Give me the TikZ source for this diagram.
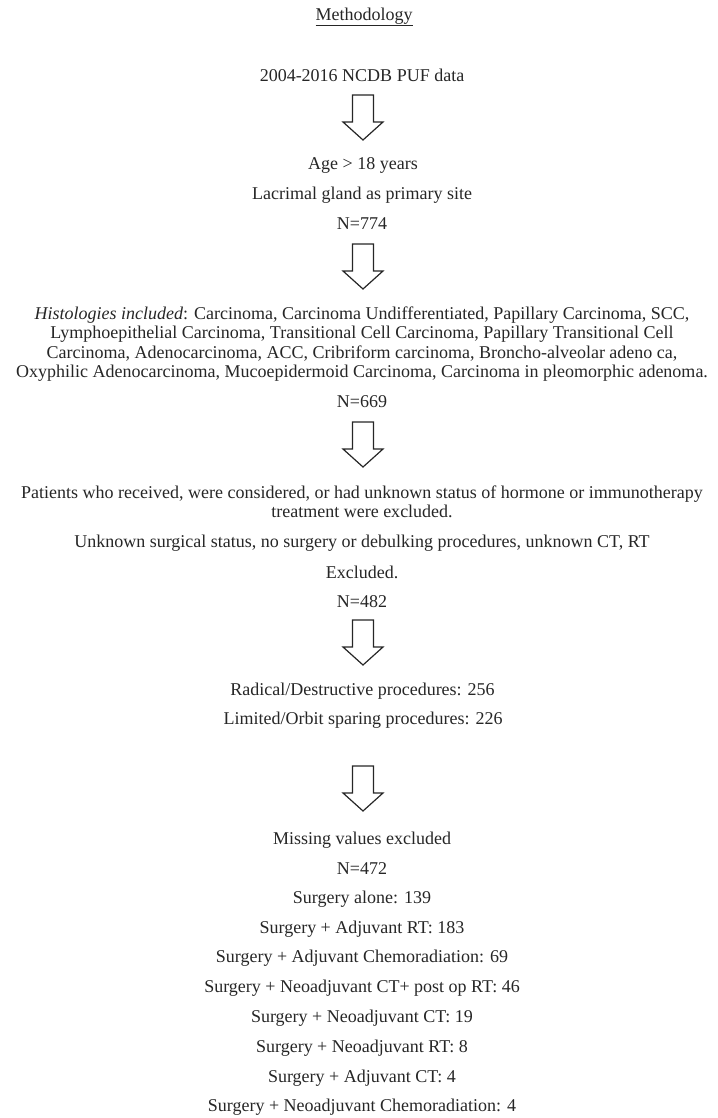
\documentclass[tikz,border=0pt]{standalone}
\usepackage{fontspec}
\setmainfont{Liberation Serif}
\usetikzlibrary{calc}
\definecolor{ink}{RGB}{38,38,38}

\begin{document}
\begin{tikzpicture}[x=1pt, y=-1pt, line join=miter,
    txt/.style={anchor=center, inner sep=0pt, text=ink, align=center,
                font=\fontsize{18}{19.3}\selectfont},
    blockarrow/.style={draw=ink, line width=1.2pt, fill=white}]

  %% ════ canvas ════
  \path[use as bounding box] (0,0) rectangle (717,1118);

  %% ════ title and source ════
  \node[txt] (meth) at (364,17) {\underline{Methodology}};
  \node[txt] (src)  at (362,75) {2004-2016 NCDB PUF data};

  %% ════ step 1: age / site ════
  \node[txt] (age)  at (363,165) {Age > 18 years};
  \node[txt] (site) at (362,195) {Lacrimal gland as primary site};
  \node[txt] (n774) at (362,224) {N=774};

  %% ════ step 2: histologies ════
  \node[txt] (hist) at (362,344) {%
    \textit{Histologies included}: Carcinoma, Carcinoma Undifferentiated, Papillary Carcinoma, SCC,\\
    Lymphoepithelial Carcinoma, Transitional Cell Carcinoma, Papillary Transitional Cell\\
    Carcinoma, Adenocarcinoma, ACC, Cribriform carcinoma, Broncho-alveolar adeno ca,\\
    Oxyphilic Adenocarcinoma, Mucoepidermoid Carcinoma, Carcinoma in pleomorphic adenoma.};
  \node[txt] (n669) at (362,402) {N=669};

  %% ════ step 3: exclusions ════
  \node[txt] (excl) at (362,501.5) {%
    Patients who received, were considered, or had unknown status of hormone or immunotherapy\\
    treatment were excluded.};
  \node[txt] (surg)     at (362,543) {Unknown surgical status, no surgery or debulking procedures, unknown CT, RT};
  \node[txt] (exclnote) at (362,572) {Excluded.};
  \node[txt] (n482)     at (362,602) {N=482};

  %% ════ step 4: procedures ════
  \node[txt] (radical) at (362.5,691) {Radical/Destructive procedures: 256};
  \node[txt] (limited) at (363,720)   {Limited/Orbit sparing procedures: 226};

  %% ════ step 5: treatment groups ════
  \node[txt] (missing) at (362,840) {Missing values excluded};
  \node[txt] (n472)    at (362,869) {N=472};
  \foreach \i/\ty/\t in {%
      1/899/{Surgery alone: 139},
      2/929/{Surgery + Adjuvant RT: 183},
      3/958/{Surgery + Adjuvant Chemoradiation: 69},
      4/988/{Surgery + Neoadjuvant CT+ post op RT: 46},
      5/1018/{Surgery + Neoadjuvant CT: 19},
      6/1048/{Surgery + Neoadjuvant RT: 8},
      7/1078/{Surgery + Adjuvant CT: 4},
      8/1107/{Surgery + Neoadjuvant Chemoradiation: 4}}{
    \node[txt] (grp\i) at (362,\ty) {\t};
  }

  %% ════ hollow block arrows ════
  %% top of shaft at (363, y); shaft 21 wide, 27 tall; head 40 wide, 18 tall
  \foreach \n/\ty in {1/95, 2/244, 3/422, 4/620, 5/766}{
    \coordinate (arr\n) at (363,\ty);
    \draw[blockarrow] (arr\n) ++(-10.5,0) -- ++(21,0) -- ++(0,27) -- ++(9.5,0)
      -- ++(-20,18) -- ++(-20,-18) -- ++(9.5,0) -- cycle;
  }
\end{tikzpicture}
\end{document}
